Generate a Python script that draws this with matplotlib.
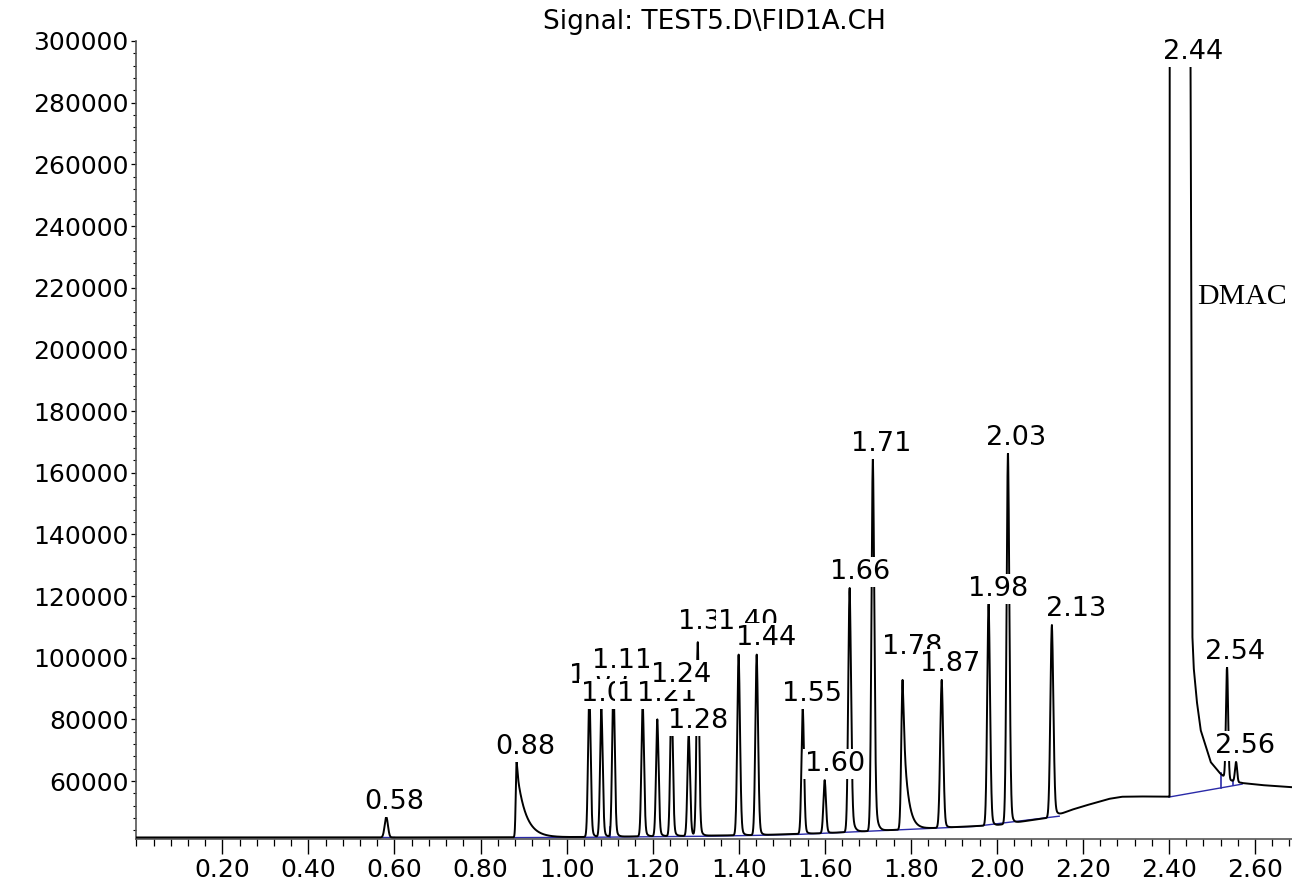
import numpy as np
import matplotlib
matplotlib.use("Agg")
import matplotlib.pyplot as plt
from matplotlib.ticker import FixedLocator, MultipleLocator, FormatStrFormatter

# ---------------- data ----------------
# baseline drift of the FID signal (retention time in min, signal)
base_t = [0.00, 0.50, 0.90, 1.00, 1.20, 1.45, 1.60, 1.80, 2.00, 2.13, 2.14, 2.17,
          2.20, 2.23, 2.26, 2.29, 2.33, 2.40, 2.567, 2.614, 2.686]
base_v = [41700, 41700, 41750, 41800, 42100, 42500, 43100, 44400, 45700, 48300,
          48800, 50500, 51800, 53000, 54200, 54900, 55000, 54900, 59400, 58700, 58000]

# resolved peaks: retention time, apex signal, width (sigma), tail fraction, tail constant
peak_rt = [0.581, 0.884, 1.053, 1.081, 1.109, 1.177, 1.211, 1.244, 1.284, 1.305,
           1.400, 1.442, 1.549, 1.600, 1.658, 1.712, 1.781, 1.872, 1.981, 2.026,
           2.128, 2.535, 2.556]
peak_top = [48300, 66200, 90000, 84000, 93000, 86000, 80000, 89000, 75500, 105000,
            101000, 101000, 83700, 60300, 122600, 164800, 92800, 92800, 117700, 166700,
            110600, 97000, 66200]
peak_sigma = [0.0038, 0.0020, 0.0030, 0.0030, 0.0030, 0.0030, 0.0030, 0.0030, 0.0030, 0.0030,
              0.0032, 0.0032, 0.0030, 0.0030, 0.0033, 0.0033, 0.0030, 0.0035, 0.0033, 0.0033,
              0.0035, 0.0025, 0.0025]
peak_tailf = [0.0, 0.90, 0.2, 0.2, 0.2, 0.2, 0.2, 0.2, 0.2, 0.2,
              0.2, 0.2, 0.15, 0.15, 0.25, 0.25, 0.80, 0.2, 0.2, 0.2,
              0.2, 0.0, 0.0]
peak_tau = [0.01, 0.020, 0.004, 0.004, 0.004, 0.004, 0.004, 0.004, 0.004, 0.004,
            0.004, 0.004, 0.004, 0.004, 0.005, 0.005, 0.0105, 0.004, 0.004, 0.004,
            0.005, 0.01, 0.01]

# overloaded DMAC peak outline (retention time, signal)
dmac_t = [2.4015, 2.4025, 2.4480, 2.4500, 2.4544, 2.4574, 2.4644, 2.4737, 2.4970,
          2.5180, 2.5300, 2.5450, 2.5600, 2.5700]
dmac_v = [54850, 900000, 900000, 300000, 107350, 97000, 86270, 76540, 66160,
          62600, 61200, 60200, 59500, 59400]

# peak labels (text, retention time position, signal position)
label_text = ["0.58", "0.88", "1.05", "1.08", "1.11", "1.18", "1.21", "1.24", "1.28",
              "1.30", "1.40", "1.44", "1.55", "1.60", "1.66", "1.71", "1.78", "1.87",
              "1.98", "2.03", "2.13", "2.44", "2.54", "2.56"]
label_t = [0.6005, 0.9051, 1.0760, 1.1039, 1.1295, 1.1880, 1.2342, 1.2667, 1.3063,
           1.3300, 1.4226, 1.4644, 1.5714, 1.6249, 1.6830, 1.7318, 1.8040, 1.8923,
           2.0040, 2.0458, 2.1853, 2.4551, 2.5528, 2.5760]
label_v = [53190, 71190, 94050, 88214, 98916, 88214, 88214, 94376, 79458,
           111564, 111564, 106375, 88214, 65513, 127780, 169290, 103456, 97943,
           122266, 171235, 115780, 296415, 101835, 71351]

# integration baselines (blue)
int_base = [([0.570, 0.600], [41700, 41700]),
            ([0.876, 1.045, 1.330, 1.450, 1.540, 1.950, 2.145],
             [41650, 41750, 42100, 42400, 42700, 45300, 48600]),
            ([2.400, 2.570], [54800, 59000])]
drop_t = [1.100, 2.521, 2.549]
drop_lo = [41780, 57900, 58650]
drop_hi = [45000, 62600, 60300]

x_ticks = [0.20, 0.40, 0.60, 0.80, 1.00, 1.20, 1.40, 1.60, 1.80, 2.00, 2.20, 2.40, 2.60]
y_ticks = [60000, 80000, 100000, 120000, 140000, 160000, 180000, 200000, 220000,
           240000, 260000, 280000, 300000]

# ---------------- build the trace ----------------
t = np.arange(0.0, 2.6865, 0.0002)
background = np.interp(t, base_t, base_v)
dmac_excess = np.array(dmac_v) - np.interp(dmac_t, base_t, base_v)
background = background + np.interp(t, dmac_t, dmac_excess, left=0, right=0)

signal = background.copy()
for rt, top, s, f, tau in zip(peak_rt, peak_top, peak_sigma, peak_tailf, peak_tau):
    h = top - np.interp(rt, t, background)
    dt = t - rt
    g = np.exp(-0.5 * (dt / s) ** 2)
    right = (1 - f) * g + f * np.exp(-np.clip(dt, 0, None) / tau)
    signal += h * np.where(dt < 0, g, right)

# ---------------- figure ----------------
W, H = 1292, 883
fig = plt.figure(figsize=(W / 100, H / 100), dpi=100)
ax = fig.add_axes([136.3 / W, 1 - 839 / H, 1 - 136.3 / W, (839 - 41) / H])

ax.plot(t, signal, color="black", lw=1.4, zorder=3)
for bt, bv in int_base:
    ax.plot(bt, bv, color="#2a2aa8", lw=1.0, zorder=2)
for dtp, lo, hi in zip(drop_t, drop_lo, drop_hi):
    ax.plot([dtp, dtp], [lo, hi], color="#2a2aa8", lw=1.2, zorder=2)

for txt, lt, lv in zip(label_text, label_t, label_v):
    ax.text(lt, lv, txt, ha="center", va="center", fontsize=19.5,
            family="DejaVu Sans", zorder=5,
            bbox=dict(facecolor="white", edgecolor="none", pad=1.5))

ax.text(2.4645, 216960, "DMAC", ha="left", va="center", fontsize=21.5,
        family="Liberation Serif", zorder=6)

ax.set_xlim(0, 2.686)
ax.set_ylim(41200, 300000)

ax.xaxis.set_major_locator(FixedLocator(x_ticks))
ax.xaxis.set_minor_locator(MultipleLocator(0.04))
ax.xaxis.set_major_formatter(FormatStrFormatter("%.2f"))
ax.yaxis.set_major_locator(FixedLocator(y_ticks))
ax.yaxis.set_minor_locator(MultipleLocator(4000))
ax.yaxis.set_major_formatter(FormatStrFormatter("%d"))

ax.tick_params(axis="x", which="major", direction="out", length=11, width=1.0,
               labelsize=18, pad=3)
ax.tick_params(axis="x", which="minor", direction="out", length=5, width=0.9)
ax.tick_params(axis="y", which="major", direction="out", length=3.6, width=0.9,
               labelsize=18, pad=2)
ax.tick_params(axis="y", which="minor", direction="out", length=2.2, width=0.8)
for lab in ax.get_xticklabels() + ax.get_yticklabels():
    lab.set_family("DejaVu Sans")

ax.spines["top"].set_visible(False)
ax.spines["right"].set_visible(False)
ax.spines["left"].set_color("#555555")
ax.spines["bottom"].set_color("#555555")
ax.spines["left"].set_linewidth(1.2)
ax.spines["bottom"].set_linewidth(1.2)

fig.text(714 / W, 1 - 29 / H, "Signal: TEST5.D\\FID1A.CH", ha="center", va="baseline",
         fontsize=19, family="DejaVu Sans")

fig.savefig("out.png", dpi=100)
